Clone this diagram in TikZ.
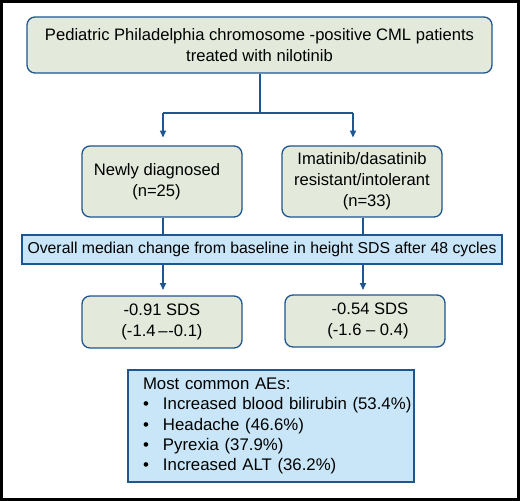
\documentclass[tikz,border=0pt]{standalone}
\usepackage{fontspec}
\setmainfont{Liberation Sans}
\usetikzlibrary{arrows.meta}
\definecolor{boxgreen}{HTML}{E4EADB}
\definecolor{boxblue}{HTML}{C8E6F7}
\definecolor{lineblue}{HTML}{1F5690}
\tikzset{
  greenbox/.style={draw=lineblue, line width=1.3pt, fill=boxgreen, rounded corners=8pt, align=center, inner sep=0pt, font=\fontsize{16.6}{21}\selectfont},
  bluebox/.style={draw=lineblue, line width=1.3pt, fill=boxblue, inner sep=0pt, font=\fontsize{16.8}{20.3}\selectfont},
  conn/.style={draw=lineblue, line width=1.6pt},
  arr/.style={conn, -{Triangle[length=7pt,width=6pt]}},
}
\newcommand{\aeitem}[1]{\mbox{\makebox[20pt][l]{•}#1}}
\begin{document}
\begin{tikzpicture}[x=1pt,y=-1pt]
\useasboundingbox (0,0) rectangle (520,501);
\draw[line width=3pt] (1.5,1.5) rectangle (518.5,499.5);

\node[greenbox, minimum width=465pt, minimum height=56pt] (top) at (259.5,45)
  {Pediatric Philadelphia chromosome -positive CML patients\\treated with nilotinib};
\node[greenbox, minimum width=160pt, minimum height=71pt] (nd) at (162,181.5)
  {Newly diagnosed\hspace*{10pt}\\(n=25)\hspace*{11pt}};
\node[greenbox, minimum width=160pt, minimum height=71pt] (ir) at (362,181.5)
  {Imatinib/dasatinib\\resistant/intolerant\\\hspace*{10pt}(n=33)};
\node[bluebox, minimum width=480pt, minimum height=29pt, font=\fontsize{15.8}{19}\selectfont] (ban) at (262,249.5)
  {Overall median change from baseline in height SDS after 48 cycles};
\node[greenbox, minimum width=160pt, minimum height=52pt] (bl) at (162,322)
  {-0.91 SDS\\(-1.4\,–\kern0.8pt-0.1)};
\node[greenbox, minimum width=160pt, minimum height=52pt] (br) at (365,321)
  {\hspace*{10pt}-0.54 SDS\\\hspace*{6pt}(-1.6 – 0.4)};
\node[bluebox, minimum height=112pt, text width=256pt, inner xsep=15pt, align=left] (ae) at (271,426)
  {Most common AEs:\\
   \aeitem{Increased blood bilirubin (53.4\%)}\\
   \aeitem{Headache (46.6\%)}\\
   \aeitem{Pyrexia (37.9\%)}\\
   \aeitem{Increased ALT (36.2\%)}};

\coordinate (split) at (260,113);
\coordinate (sl) at (163,113);
\coordinate (sr) at (353,113);
\coordinate (al) at (163,137.5);
\coordinate (ar) at (353,137.5);
\coordinate (bl0) at (163,264);
\coordinate (br0) at (363,264);
\coordinate (bla) at (163,290);
\coordinate (bra) at (363,290);

\draw[conn] (top.south -| split) -- (split);
\draw[conn] (sl) -- (sr);
\draw[arr] (sl) -- (al);
\draw[arr] (sr) -- (ar);
\draw[conn] (nd.south -| bl0) -- (ban.north -| bl0);
\draw[conn] (ir.south -| br0) -- (ban.north -| br0);
\draw[arr] (ban.south -| bl0) -- (bla);
\draw[arr] (ban.south -| br0) -- (bra);
\end{tikzpicture}
\end{document}
